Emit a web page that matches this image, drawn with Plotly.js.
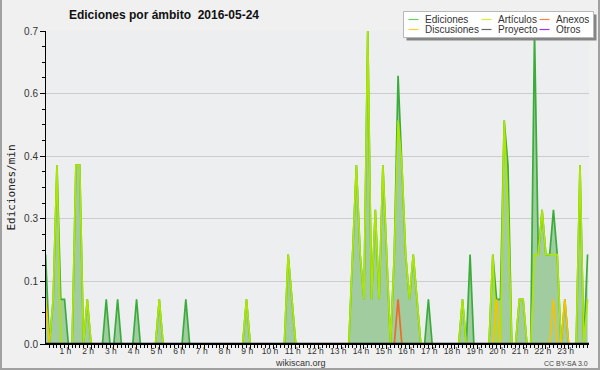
<!DOCTYPE html>
<html>
<head>
<meta charset="utf-8">
<script src="https://cdn.plot.ly/plotly-3.0.1.min.js"></script>
<style>
html,body{margin:0;padding:0;background:#f0f0f0;}
#chart{width:600px;height:370px;}
</style>
</head>
<body>
<div id="chart"></div>
<script>
// ---------- texts ----------
const titleText = "Ediciones por ámbito  2016-05-24";
const yTitleText = "Ediciones/min";
const siteText = "wikiscan.org";
const licenseText = "CC BY-SA 3.0";
const seriesNames = ["Ediciones", "Artículos", "Anexos", "Discusiones", "Proyecto", "Otros"];

// ---------- tick labels ----------
const hourTicks = [1,2,3,4,5,6,7,8,9,10,11,12,13,14,15,16,17,18,19,20,21,22,23];
const hourLabels = ["1 h","2 h","3 h","4 h","5 h","6 h","7 h","8 h","9 h","10 h","11 h","12 h",
                    "13 h","14 h","15 h","16 h","17 h","18 h","19 h","20 h","21 h","22 h","23 h"];
const yTickVals = [0, 0.14, 0.28, 0.42, 0.56, 0.7];
const yTickText = ["0.0", "0.1", "0.3", "0.4", "0.6", "0.7"];

// ---------- data: edits per minute, one value per 10-minute slot (144 slots) ----------
const ediciones = [
  0.2,0,0.1,0.4,0.1,0.1,0,0,0.4,0.4,0,0.1,
  0,0,0,0,0.1,0,0,0.1,0,0,0,0,
  0.1,0,0,0,0,0,0.1,0,0,0,0,0,
  0,0.1,0,0,0,0,0,0,0,0,0,0,
  0,0,0,0,0,0.1,0,0,0,0,0,0,
  0,0,0,0,0.2,0.1,0,0,0,0,0,0,
  0,0,0,0,0,0,0,0,0,0.2,0.4,0.2,
  0.1,0.7,0.1,0.3,0.1,0.4,0.2,0,0.2,0.6,0.4,0.2,
  0.1,0.2,0.1,0,0,0.1,0,0,0,0,0,0,
  0,0,0.1,0,0.2,0,0,0,0,0,0.2,0.1,
  0.1,0.5,0.4,0,0,0.1,0.1,0,0,0.7,0.2,0.3,
  0.2,0.2,0.3,0.2,0,0.1,0,0,0,0.4,0,0.2
];
const articulos = [
  0,0,0.1,0.4,0,0,0,0,0.4,0.4,0,0.1,
  0,0,0,0,0,0,0,0,0,0,0,0,
  0,0,0,0,0,0,0.1,0,0,0,0,0,
  0,0,0,0,0,0,0,0,0,0,0,0,
  0,0,0,0,0,0.1,0,0,0,0,0,0,
  0,0,0,0,0.2,0.1,0,0,0,0,0,0,
  0,0,0,0,0,0,0,0,0,0.2,0.4,0.2,
  0.1,0.7,0.1,0.3,0.1,0.4,0.2,0,0.2,0.5,0.4,0.2,
  0.1,0.2,0.1,0,0,0,0,0,0,0,0,0,
  0,0,0.1,0,0,0,0,0,0,0,0.2,0,
  0,0.5,0.3,0,0,0.1,0.1,0,0,0.2,0.2,0.3,
  0.2,0.2,0.2,0.2,0,0,0,0,0,0.4,0,0.1
];
const anexos = [
  0,0,0,0,0,0,0,0,0,0,0,0,
  0,0,0,0,0,0,0,0,0,0,0,0,
  0,0,0,0,0,0,0,0,0,0,0,0,
  0,0,0,0,0,0,0,0,0,0,0,0,
  0,0,0,0,0,0,0,0,0,0,0,0,
  0,0,0,0,0,0,0,0,0,0,0,0,
  0,0,0,0,0,0,0,0,0,0,0,0,
  0,0,0,0,0,0,0,0,0,0.1,0,0,
  0,0,0,0,0,0,0,0,0,0,0,0,
  0,0,0,0,0,0,0,0,0,0,0,0,
  0,0,0,0,0,0,0,0,0,0,0,0,
  0,0,0,0,0,0,0,0,0,0,0,0
];
const discusiones = [
  0.1,0,0,0,0,0,0,0,0,0,0,0,
  0,0,0,0,0,0,0,0,0,0,0,0,
  0,0,0,0,0,0,0,0,0,0,0,0,
  0,0,0,0,0,0,0,0,0,0,0,0,
  0,0,0,0,0,0,0,0,0,0,0,0,
  0,0,0,0,0,0,0,0,0,0,0,0,
  0,0,0,0,0,0,0,0,0,0,0,0,
  0,0,0,0,0,0,0,0,0,0,0,0,
  0,0,0,0,0,0,0,0,0,0,0,0,
  0,0,0,0,0,0,0,0,0,0,0,0.1,
  0,0,0,0,0,0,0,0,0,0,0,0,
  0,0,0.1,0,0,0.1,0,0,0,0,0,0
];
const proyecto = [
  0,0,0,0,0,0,0,0,0,0,0,0, 0,0,0,0,0,0,0,0,0,0,0,0,
  0,0,0,0,0,0,0,0,0,0,0,0, 0,0,0,0,0,0,0,0,0,0,0,0,
  0,0,0,0,0,0,0,0,0,0,0,0, 0,0,0,0,0,0,0,0,0,0,0,0,
  0,0,0,0,0,0,0,0,0,0,0,0, 0,0,0,0,0,0,0,0,0,0,0,0,
  0,0,0,0,0,0,0,0,0,0,0,0, 0,0,0,0,0,0,0,0,0,0,0,0,
  0,0,0,0,0,0,0,0,0,0,0,0, 0,0,0,0,0,0,0,0,0,0,0,0
];
const otros = [
  0,0,0,0,0,0,0,0,0,0,0,0, 0,0,0,0,0,0,0,0,0,0,0,0,
  0,0,0,0,0,0,0,0,0,0,0,0, 0,0,0,0,0,0,0,0,0,0,0,0,
  0,0,0,0,0,0,0,0,0,0,0,0, 0,0,0,0,0,0,0,0,0,0,0,0,
  0,0,0,0,0,0,0,0,0,0,0,0, 0,0,0,0,0,0,0,0,0,0,0,0,
  0,0,0,0,0,0,0,0,0,0,0,0, 0,0,0,0,0,0,0,0,0,0,0,0,
  0,0,0,0,0,0,0,0,0,0,0,0, 0,0,0,0,0,0,0,0,0,0,0,0
];

// ---------- styles ----------
const lineColors = ["#3aac3a", "#aee600", "#f06a28", "#f5c400", "#555555", "#9a40f0"];
const legendColors = ["#66cc66", "#ccee33", "#ff7f4f", "#ffcc33", "#666666", "#9933ff"];
const fillColor = "#a0cca0";
const labelFont = "Liberation Sans Narrow, Liberation Sans, Arial, sans-serif";

// time of each slot in hours (10-minute slots)
const slotHours = ediciones.map((_, i) => i / 6);

const seriesValues = [ediciones, articulos, anexos, discusiones, proyecto, otros];
const drawOrder = [0, 4, 5, 2, 1, 3];
const traces = drawOrder.map(k => ({
  type: "scatter",
  mode: "lines",
  name: seriesNames[k],
  x: slotHours,
  y: seriesValues[k],
  fill: k === 0 ? "tozeroy" : "none",
  fillcolor: fillColor,
  line: {color: lineColors[k], width: 1.7},
  showlegend: false,
  hoverinfo: "skip"
}));

// layout geometry (pixels)
const M = {l: 46, r: 11, t: 31, b: 26};
const W = 600 - M.l - M.r, H = 370 - M.t - M.b;
const px = x => (x - M.l) / W;
const py = y => (370 - M.b - y) / H;

const shapes = [];
const annotations = [];

// baseline cover
shapes.push({type: "line", xref: "paper", yref: "y", x0: 0, x1: 1, y0: 0, y1: 0,
             line: {color: "#000", width: 2.5}, layer: "above"});

// image border (left, bottom, right)
shapes.push({type: "path", xref: "paper", yref: "paper", layer: "above",
  path: `M${px(1)},${py(0)} L${px(1)},${py(369)} L${px(599)},${py(369)} L${px(599)},${py(0)}`,
  line: {color: "#a0a0a0", width: 2}});

// legend box with shadow
shapes.push({type: "rect", xref: "paper", yref: "paper", layer: "above",
  x0: px(406.5), x1: px(596.5), y0: py(14.5), y1: py(40.5),
  fillcolor: "#858585", line: {width: 0}});
shapes.push({type: "rect", xref: "paper", yref: "paper", layer: "above",
  x0: px(403.5), x1: px(593.5), y0: py(11.5), y1: py(37.5),
  fillcolor: "#ffffff", line: {color: "#b8b8b8", width: 1}});

const legColLine = [408.5, 481.5, 539.5];
const legColText = [422.5, 495.5, 553.5];
const legRowY = [19.5, 29.5];
seriesNames.forEach((name, i) => {
  const c = i % 3, r = Math.floor(i / 3);
  shapes.push({type: "line", xref: "paper", yref: "paper", layer: "above",
    x0: px(legColLine[c]), x1: px(legColLine[c] + 10), y0: py(legRowY[r]), y1: py(legRowY[r]),
    line: {color: legendColors[i], width: 1.2}});
  annotations.push({xref: "paper", yref: "paper", x: px(legColText[c]), y: py(legRowY[r]),
    xanchor: "left", yanchor: "middle", text: name, showarrow: false,
    font: {family: "Liberation Sans, Arial, sans-serif", size: 10, color: "#333"}});
});

annotations.push({xref: "paper", yref: "paper", x: px(300.5), y: py(362.5),
  xanchor: "center", yanchor: "middle", text: siteText, showarrow: false,
  font: {family: "Liberation Sans, Arial, sans-serif", size: 9, color: "#333"}});
annotations.push({xref: "paper", yref: "paper", x: px(590), y: py(363),
  xanchor: "right", yanchor: "middle", text: licenseText, showarrow: false,
  font: {family: "Liberation Sans, Arial, sans-serif", size: 7, color: "#444"}});

const layout = {
  width: 600, height: 370,
  margin: M,
  paper_bgcolor: "#f0f0f0",
  plot_bgcolor: "#eceef0",
  showlegend: false,
  hovermode: false,
  title: {
    text: titleText, xref: "container", yref: "container",
    x: 164 / 600, xanchor: "center", y: 1 - 15 / 370, yanchor: "middle",
    font: {family: "Liberation Sans, Arial, sans-serif", size: 12, weight: "bold", color: "#111"}
  },
  xaxis: {
    range: [0.0176, 23.896],
    tickmode: "array", tickvals: hourTicks, ticktext: hourLabels,
    ticks: "outside", ticklen: 4, tickwidth: 1, tickcolor: "#000",
    minor: {tickmode: "linear", tick0: 0, dtick: 1 / 6, ticks: "outside", ticklen: 3, tickcolor: "#000", showgrid: false},
    showgrid: false, zeroline: false,
    showline: true, linecolor: "#000", linewidth: 1,
    ticklabelshift: -3, ticklabelstandoff: -5,
    tickfont: {family: labelFont, size: 8.5, color: "#333"}
  },
  yaxis: {
    range: [0, 0.7],
    tickmode: "array", tickvals: yTickVals, ticktext: yTickText,
    ticks: "outside", ticklen: 5, tickwidth: 1, tickcolor: "#000",
    minor: {tickmode: "linear", tick0: 0, dtick: 0.035, ticks: "outside", ticklen: 3, tickcolor: "#000", showgrid: false},
    showgrid: true, gridcolor: "#cccccc", gridwidth: 1,
    zeroline: false, showline: true, linecolor: "#000", linewidth: 1,
    tickfont: {family: labelFont, size: 10, color: "#333"},
    title: {text: yTitleText, standoff: 6,
            font: {family: "DejaVu Sans Mono, monospace", size: 11, color: "#222"}}
  },
  shapes: shapes,
  annotations: annotations
};

Plotly.newPlot("chart", traces, layout, {staticPlot: true, displayModeBar: false});
</script>
</body>
</html>
